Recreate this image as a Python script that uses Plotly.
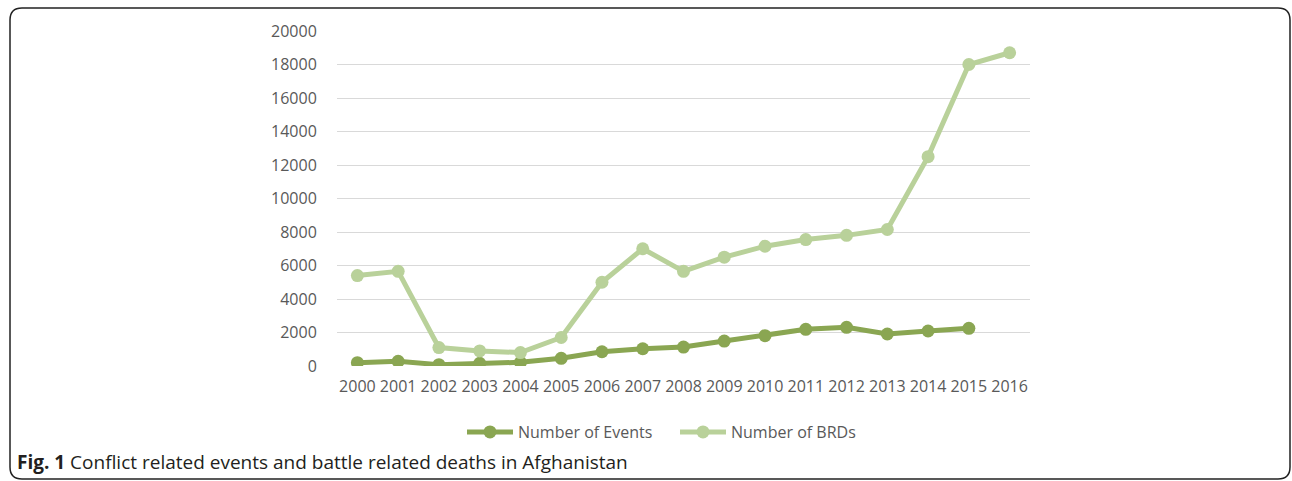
import plotly.graph_objects as go

years = [str(y) for y in range(2000, 2017)]
events = [200, 280, 80, 160, 220, 460, 850, 1030, 1130, 1490, 1810, 2190, 2310, 1910, 2090, 2250, None]
brds = [5400, 5650, 1100, 900, 800, 1700, 5000, 7000, 5650, 6500, 7150, 7550, 7800, 8150, 12500, 18000, 18700]
yticks = [0, 2000, 4000, 6000, 8000, 10000, 12000, 14000, 16000, 18000, 20000]
yticklabels = [str(v) for v in yticks]

W, H = 1292, 481
L, R, T, B = 337, 1030, 31, 366

fig = go.Figure()
fig.add_trace(go.Scatter(x=years, y=events, name="Number of Events", mode="lines+markers",
                         line=dict(color="#8AA652", width=5), marker=dict(size=13, color="#8AA652")))
fig.add_trace(go.Scatter(x=years, y=brds, name="Number of BRDs", mode="lines+markers",
                         line=dict(color="#B9D19A", width=5), marker=dict(size=13, color="#B9D19A")))

def px(x):
    return (x - L) / (R - L)
def py(y):
    return (B - y) / (B - T)

x0, x1, y0, y1, r = 10, 1290, 8, 479, 12
path = (f"M {px(x0+r)},{py(y0)} L {px(x1-r)},{py(y0)} Q {px(x1)},{py(y0)} {px(x1)},{py(y0+r)} "
        f"L {px(x1)},{py(y1-r)} Q {px(x1)},{py(y1)} {px(x1-r)},{py(y1)} "
        f"L {px(x0+r)},{py(y1)} Q {px(x0)},{py(y1)} {px(x0)},{py(y1-r)} "
        f"L {px(x0)},{py(y0+r)} Q {px(x0)},{py(y0)} {px(x0+r)},{py(y0)} Z")
fig.add_shape(type="path", path=path, xref="paper", yref="paper",
              line=dict(color="#222222", width=1.5))

fig.add_annotation(x=px(15), y=py(462), xref="paper", yref="paper", xanchor="left", yanchor="middle",
                   showarrow=False,
                   text="<b>Fig. 1</b> Conflict related events and battle related deaths in Afghanistan",
                   font=dict(family="Open Sans", size=19, color="#231F20"))

fig.update_layout(
    width=W, height=H, margin=dict(l=L, r=W - R, t=T, b=H - B),
    paper_bgcolor="white", plot_bgcolor="white",
    font=dict(family="Open Sans", color="#595959", size=15),
    showlegend=True,
    legend=dict(orientation="h", x=px(462), y=py(432), xanchor="left", yanchor="middle",
                font=dict(size=16, color="#595959"), itemwidth=46, entrywidth=152,
                bgcolor="rgba(0,0,0,0)"),
    xaxis=dict(type="category", range=[-0.5, 16.5], showgrid=False, showline=False, zeroline=False,
               tickfont=dict(size=16, color="#595959"), ticks="outside", ticklen=6, tickcolor="rgba(0,0,0,0)"),
    yaxis=dict(range=[0, 20000], tickvals=yticks, ticktext=yticklabels, showgrid=True,
               gridcolor="#D9D9D9", gridwidth=1,
               zeroline=False, showline=False, tickfont=dict(size=16, color="#595959"),
               ticks="outside", ticklen=16, tickcolor="rgba(0,0,0,0)"),
)

fig.write_html("out.html")
